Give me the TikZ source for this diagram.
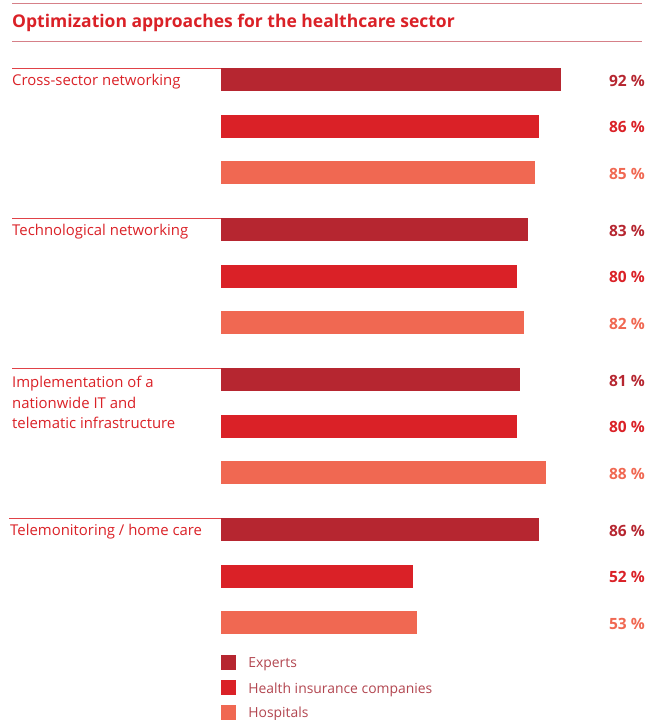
\documentclass[tikz,border=0pt]{standalone}
\usepackage{fontspec}
\setmainfont{Open Sans}
\usetikzlibrary{positioning}
\definecolor{expertred}{RGB}{182,38,48}
\definecolor{insurered}{RGB}{218,33,39}
\definecolor{hospitalred}{RGB}{240,104,82}
\definecolor{rulepink}{RGB}{214,128,136}
\definecolor{legendgray}{RGB}{178,70,80}
\tikzstyle{rule}=[draw=rulepink,line width=0.9pt]
\tikzstyle{groupline}=[draw=insurered!85,line width=0.8pt]
\tikzstyle{grouplabel}=[anchor=west,inner sep=0pt,text=insurered,font=\fontsize{14.9}{20.5}\selectfont,align=left]
\tikzstyle{pct}=[anchor=east,inner sep=0pt,font=\bfseries\fontsize{15.5}{18}\selectfont]
\tikzstyle{legendbox}=[minimum size=15pt,inner sep=0pt]
\tikzstyle{legendtext}=[anchor=west,inner sep=0pt,text=legendgray,font=\fontsize{13.9}{16}\selectfont]

\begin{document}
\begin{tikzpicture}[x=1pt,y=-1pt]
  \useasboundingbox (0,0) rectangle (647,720);

  % title between the two rules
  \draw[rule] (12,3) -- (642,3);
  \draw[rule] (12,41) -- (642,41);
  \node[anchor=west,inner sep=0pt,text=insurered,font=\bfseries\fontsize{17.5}{21}\selectfont] (title) at (12,23) {Optimization approaches for the healthcare sector};

  % group 1
  \draw[groupline] (12,68.5) -- (221,68.5);
  \node[grouplabel] (cross) at (12,82) {Cross-sector networking};
  \fill[expertred]   (221,68)  rectangle (561,91);
  \fill[insurered]   (221,114.5) rectangle (539,137.5);
  \fill[hospitalred] (221,161) rectangle (535,184);
  \node[pct,text=expertred]   (p11) at (645,81)  {92 \%};
  \node[pct,text=insurered]   (p12) at (645,127) {86 \%};
  \node[pct,text=hospitalred] (p13) at (645,173.5) {85 \%};

  % group 2
  \draw[groupline] (12,218.5) -- (221,218.5);
  \node[grouplabel] (tech) at (12,232) {Technological networking};
  \fill[expertred]   (221,218)  rectangle (528,241);
  \fill[insurered]   (221,264.5) rectangle (517,287.5);
  \fill[hospitalred] (221,311) rectangle (524,334);
  \node[pct,text=expertred]   (p21) at (645,231)  {83 \%};
  \node[pct,text=insurered]   (p22) at (645,277) {80 \%};
  \node[pct,text=hospitalred] (p23) at (645,323.5) {82 \%};

  % group 3
  \draw[groupline] (12,368.5) -- (221,368.5);
  \node[grouplabel] (infra) at (12,402.5) {Implementation of a\\nationwide IT and\\telematic infrastructure};
  \fill[expertred]   (221,368)  rectangle (520,391);
  \fill[insurered]   (221,414.5) rectangle (517,437.5);
  \fill[hospitalred] (221,461) rectangle (546,484);
  \node[pct,text=expertred]   (p31) at (645,381)  {81 \%};
  \node[pct,text=insurered]   (p32) at (645,427) {80 \%};
  \node[pct,text=hospitalred] (p33) at (645,473.5) {88 \%};

  % group 4
  \draw[groupline] (9,518.5) -- (221,518.5);
  \node[grouplabel] (tele) at (10,532) {Telemonitoring / home care};
  \fill[expertred]   (221,518)  rectangle (539,541);
  \fill[insurered]   (221,564.5) rectangle (413,587.5);
  \fill[hospitalred] (221,611) rectangle (417,634);
  \node[pct,text=expertred]   (p41) at (645,531)  {86 \%};
  \node[pct,text=insurered]   (p42) at (645,577) {52 \%};
  \node[pct,text=hospitalred] (p43) at (645,623.5) {53 \%};

  % legend
  \node[legendbox,fill=expertred]   (kexp) at (228.5,662.5) {};
  \node[legendbox,fill=insurered]   (kins) at (228.5,687.5) {};
  \node[legendbox,fill=hospitalred] (khos) at (228.5,712.5) {};
  \node[legendtext,right=12pt of kexp,yshift=-2pt] (texp) {Experts};
  \node[legendtext,right=12pt of kins,yshift=-2pt] (tins) {Health insurance companies};
  \node[legendtext,right=12pt of khos,yshift=-1pt] (thos) {Hospitals};
\end{tikzpicture}
\end{document}
